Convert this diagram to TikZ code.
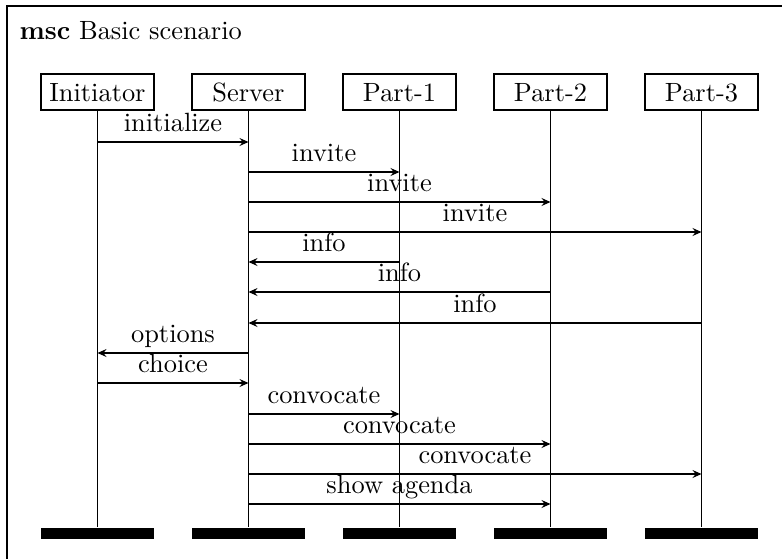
\documentclass[tikz,border=0pt]{standalone}
\usetikzlibrary{arrows.meta}
\begin{document}
\begin{tikzpicture}[
  x=0.3788pt, y=-0.3788pt,
  inst/.style={draw, line width=0.45pt, minimum width=42.8pt, minimum height=13.64pt,
               inner sep=0pt, text height=6.83pt, text depth=0pt},
  instend/.style={fill=black, minimum width=42.8pt, minimum height=4.17pt, inner sep=0pt},
  lifeline/.style={line width=0.6pt},
  msg/.style={-{Stealth[length=3.4pt, width=3pt, inset=1.2pt]}, line width=0.5pt},
  lbl/.style={above, inner sep=2.6pt, text depth=1pt},
  frame/.style={line width=0.6pt}
]
\useasboundingbox (0,0) rectangle (782,558);
\clip (0,0) rectangle (782,558);

% diagram frame and heading
\draw[frame] (7,6) rectangle (900,700);
\node[anchor=base west, inner sep=0pt] (title) at (19,39) {\textbf{msc} Basic scenario};

% instance heads
\node[inst] (ini) at (97.5,92) {Initiator};
\node[inst] (srv) at (248.5,92) {Server};
\node[inst] (p1)  at (399.5,92) {Part-1};
\node[inst] (p2)  at (550.5,92) {Part-2};
\node[inst] (p3)  at (701.5,92) {Part-3};

% instance ends
\node[instend] (iniE) at (97.5,533.5) {};
\node[instend] (srvE) at (248.5,533.5) {};
\node[instend] (p1E)  at (399.5,533.5) {};
\node[instend] (p2E)  at (550.5,533.5) {};
\node[instend] (p3E)  at (701.5,533.5) {};

% lifelines
\draw[lifeline] (ini.south) -- (iniE.north);
\draw[lifeline] (srv.south) -- (srvE.north);
\draw[lifeline] (p1.south) -- (p1E.north);
\draw[lifeline] (p2.south) -- (p2E.north);
\draw[lifeline] (p3.south) -- (p3E.north);

% messages
\draw[msg] (ini |- 0,142) -- node[lbl] {initialize} (srv |- 0,142);
\draw[msg] (srv |- 0,172) -- node[lbl] {invite} (p1 |- 0,172);
\draw[msg] (srv |- 0,202) -- node[lbl] {invite} (p2 |- 0,202);
\draw[msg] (srv |- 0,232) -- node[lbl] {invite} (p3 |- 0,232);
\draw[msg] (p1 |- 0,262) -- node[lbl] {info} (srv |- 0,262);
\draw[msg] (p2 |- 0,292) -- node[lbl] {info} (srv |- 0,292);
\draw[msg] (p3 |- 0,323) -- node[lbl] {info} (srv |- 0,323);
\draw[msg] (srv |- 0,353) -- node[lbl] {options} (ini |- 0,353);
\draw[msg] (ini |- 0,383) -- node[lbl] {choice} (srv |- 0,383);
\draw[msg] (srv |- 0,414) -- node[lbl] {convocate} (p1 |- 0,414);
\draw[msg] (srv |- 0,444) -- node[lbl] {convocate} (p2 |- 0,444);
\draw[msg] (srv |- 0,474) -- node[lbl] {convocate} (p3 |- 0,474);
\draw[msg] (srv |- 0,504) -- node[lbl] {show agenda} (p2 |- 0,504);
\end{tikzpicture}
\end{document}
